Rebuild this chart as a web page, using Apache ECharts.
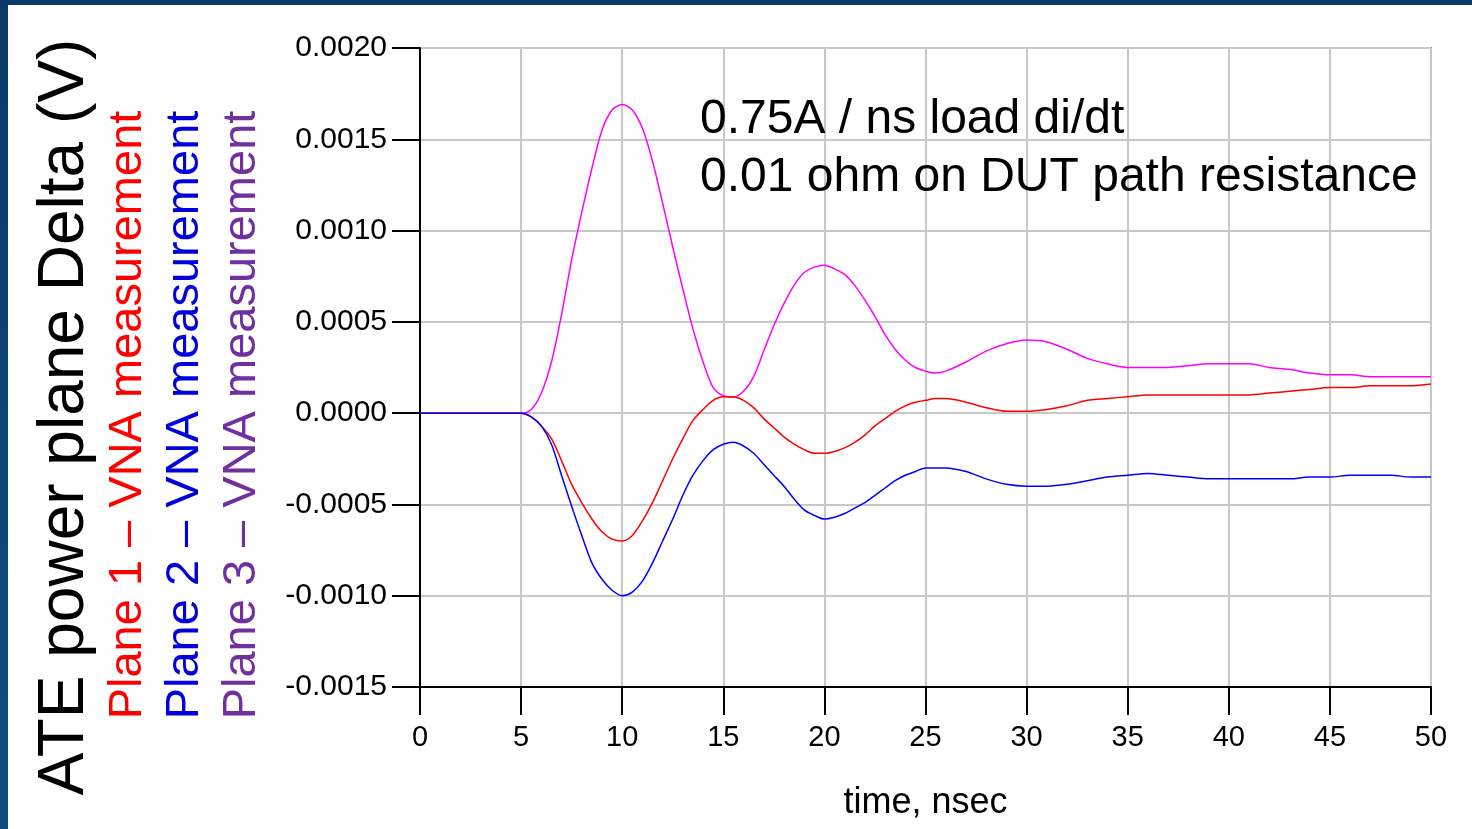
<!DOCTYPE html>
<html>
<head>
<meta charset="utf-8">
<script src="https://cdn.jsdelivr.net/npm/echarts@6/dist/echarts.min.js"></script>
<style>
  html, body { margin: 0; padding: 0; background: #fff; }
  #chart { width: 1472px; height: 829px; }
</style>
</head>
<body>
<div id="chart"></div>
<script>
// time axis (nsec)
var timeNs = [0, 1, 2, 3, 4, 5, 5.5, 6, 6.5, 7, 7.5, 8, 8.5, 9, 9.5, 10, 10.5, 11, 11.5, 12, 12.5,
  13, 13.5, 14, 14.5, 15, 15.5, 16, 16.5, 17, 17.5, 18, 18.5, 19, 19.5, 20, 20.5, 21, 21.5, 22, 22.5,
  23, 23.5, 24, 24.5, 25, 25.5, 26, 27, 28, 29, 30, 31, 32, 33, 34, 35, 36, 37, 38, 39, 40,
  41, 42, 43, 44, 45, 46, 47, 48, 49, 50];

// Plane 1 (red)
var plane1 = [0, 0, 0, 0, 0, 0, -0.00002, -0.00007, -0.00014, -0.00026, -0.00039, -0.00049, -0.00058, -0.00065, -0.00069, -0.00070, -0.00067, -0.00059, -0.00049, -0.00037, -0.00025,
  -0.00014, -0.00004, 0.00002, 0.00007, 0.00009, 0.00009, 0.00007, 0.00003, -0.00003, -0.00008, -0.00013, -0.00017, -0.00020, -0.00022, -0.00022, -0.00021, -0.00019, -0.00016, -0.00012, -0.00007,
  -0.00003, 0.00001, 0.00004, 0.00006, 0.00007, 0.00008, 0.00008, 0.00006, 0.00003, 0.00001, 0.00001, 0.00002, 0.00004, 0.00007, 0.00008, 0.00009, 0.00010, 0.00010, 0.00010, 0.00010, 0.00010,
  0.00010, 0.00011, 0.00012, 0.00013, 0.00014, 0.00014, 0.00015, 0.00015, 0.00015, 0.00016];

// Plane 2 (blue)
var plane2 = [0, 0, 0, 0, 0, 0, -0.00002, -0.00007, -0.00017, -0.00034, -0.00051, -0.00067, -0.00082, -0.00091, -0.00097, -0.00100, -0.00098, -0.00092, -0.00082, -0.00070, -0.00058,
  -0.00045, -0.00034, -0.00026, -0.00020, -0.00017, -0.00016, -0.00018, -0.00022, -0.00028, -0.00034, -0.00040, -0.00047, -0.00053, -0.00056, -0.00058, -0.00057, -0.00055, -0.00052, -0.00049, -0.00045,
  -0.00041, -0.00037, -0.00034, -0.00032, -0.00030, -0.00030, -0.00030, -0.00032, -0.00036, -0.00039, -0.00040, -0.00040, -0.00039, -0.00037, -0.00035, -0.00034, -0.00033, -0.00034, -0.00035, -0.00036, -0.00036,
  -0.00036, -0.00036, -0.00036, -0.00035, -0.00035, -0.00034, -0.00034, -0.00034, -0.00035, -0.00035];

// Plane 3 (magenta)
var plane3 = [0, 0, 0, 0, 0, 0, 0.00002, 0.00011, 0.00028, 0.00054, 0.00084, 0.00110, 0.00134, 0.00155, 0.00166, 0.00169, 0.00166, 0.00156, 0.00138, 0.00115, 0.00091,
  0.00068, 0.00046, 0.00028, 0.00014, 0.000095, 0.000088, 0.00012, 0.00020, 0.00034, 0.00048, 0.00060, 0.00070, 0.00077, 0.00080, 0.00081, 0.00079, 0.00076, 0.00070, 0.00062, 0.00053,
  0.00043, 0.00035, 0.00029, 0.00025, 0.00023, 0.00022, 0.00023, 0.00028, 0.00034, 0.00038, 0.00040, 0.00039, 0.00035, 0.00030, 0.00027, 0.00025, 0.00025, 0.00025, 0.00026, 0.00027, 0.00027,
  0.00027, 0.00025, 0.00024, 0.00022, 0.00021, 0.00021, 0.00020, 0.00020, 0.00020, 0.00020];

var legendLines = [
  { text: 'Plane 1 \u2013 VNA measurement', color: '#ff0000', x: 128 },
  { text: 'Plane 2 \u2013 VNA measurement', color: '#0000dd', x: 185 },
  { text: 'Plane 3 \u2013 VNA measurement', color: '#7030a0', x: 242 }
];
var notes = ['0.75A / ns load di/dt', '0.01 ohm on DUT path resistance'];

function pairs(vals) {
  return timeNs.map(function (t, i) { return [t, vals[i]]; });
}

var chart = echarts.init(document.getElementById('chart'));
var font = '"Liberation Sans", Arial, sans-serif';

var graphics = [
  {
    type: 'rect', left: 0, top: 0, z: 100,
    shape: { width: 1472, height: 5 },
    style: { fill: '#0a3a68' }
  },
  {
    type: 'rect', left: 0, top: 0, z: 100,
    shape: { width: 8, height: 829 },
    style: {
      fill: new echarts.graphic.LinearGradient(0, 0, 0, 1, [
        { offset: 0, color: '#0a3a68' },
        { offset: 1, color: '#0d4f82' }
      ])
    }
  },
  {
    type: 'text', x: 65, y: 417, rotation: Math.PI / 2,
    style: {
      text: 'ATE power plane Delta (V)', font: '64px ' + font, fill: '#000',
      textAlign: 'center', textVerticalAlign: 'middle'
    }
  }
];
legendLines.forEach(function (l) {
  graphics.push({
    type: 'text', x: l.x, y: 415, rotation: Math.PI / 2,
    style: {
      text: l.text, font: '47px ' + font, fill: l.color,
      textAlign: 'center', textVerticalAlign: 'middle'
    }
  });
});
notes.forEach(function (n, i) {
  graphics.push({
    type: 'text', x: 700, y: 120 + i * 58, z: 50,
    style: {
      text: n, font: '48px ' + font, fill: '#000',
      textAlign: 'left', textVerticalAlign: 'middle'
    }
  });
});

chart.setOption({
  backgroundColor: '#ffffff',
  animation: false,
  grid: {
    left: 420, right: 41, top: 48, bottom: 142,
    show: true, borderColor: '#333', borderWidth: 1.5, backgroundColor: 'transparent'
  },
  xAxis: {
    type: 'value', min: 0, max: 50, interval: 5,
    name: 'time, nsec', nameLocation: 'middle', nameGap: 98,
    nameTextStyle: { fontFamily: font, fontSize: 36, color: '#000' },
    axisLine: { show: true, onZero: false, lineStyle: { color: '#000', width: 2 } },
    axisTick: { show: true, length: 28, lineStyle: { color: '#000', width: 2 } },
    axisLabel: { fontFamily: font, fontSize: 29, color: '#000', margin: 36 },
    splitLine: { show: true, lineStyle: { color: '#c8c8c8', width: 2 } }
  },
  yAxis: {
    type: 'value', min: -0.0015, max: 0.002, interval: 0.0005,
    axisLine: { show: true, onZero: false, lineStyle: { color: '#000', width: 2 } },
    axisTick: { show: true, length: 28, lineStyle: { color: '#000', width: 2 } },
    axisLabel: {
      fontFamily: font, fontSize: 30, color: '#000', margin: 33,
      formatter: function (v) { return v.toFixed(4); }
    },
    splitLine: { show: true, lineStyle: { color: '#c8c8c8', width: 2 } }
  },
  series: [
    {
      name: 'Plane 3', type: 'line', data: pairs(plane3), smooth: 0.3, showSymbol: false,
      lineStyle: { color: '#ff00ff', width: 1.5 }, itemStyle: { color: '#ff00ff' }
    },
    {
      name: 'Plane 1', type: 'line', data: pairs(plane1), smooth: 0.3, showSymbol: false,
      lineStyle: { color: '#ff0000', width: 1.5 }, itemStyle: { color: '#ff0000' }
    },
    {
      name: 'Plane 2', type: 'line', data: pairs(plane2), smooth: 0.3, showSymbol: false,
      lineStyle: { color: '#0000ff', width: 1.5 }, itemStyle: { color: '#0000ff' }
    }
  ],
  graphic: graphics
});
</script>
</body>
</html>
